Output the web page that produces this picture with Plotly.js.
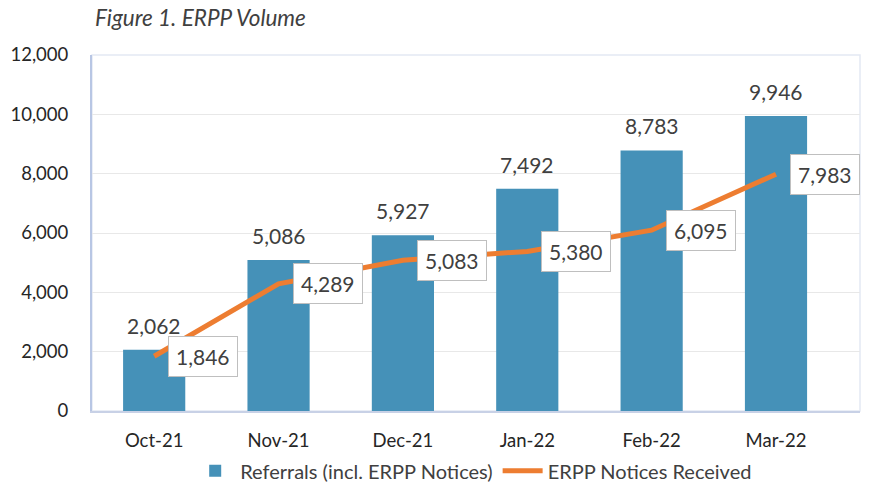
<!DOCTYPE html>
<html>
<head>
<meta charset="utf-8">
<script src="https://cdn.plot.ly/plotly-3.0.1.min.js"></script>
<style>html,body{margin:0;padding:0;background:#fff;}#chart{width:883px;height:482px;}</style>
</head>
<body>
<div id="chart"></div>
<script>
const months = ["Oct-21", "Nov-21", "Dec-21", "Jan-22", "Feb-22", "Mar-22"];
const referrals = [2062, 5086, 5927, 7492, 8783, 9946];
const notices = [1846, 4289, 5083, 5380, 6095, 7983];
const yTicks = [0, 2000, 4000, 6000, 8000, 10000, 12000];

const fontFam = "Lato, 'Open Sans', sans-serif";
const txtCol = "#404040";
const fmt = v => v.toLocaleString("en-US");

const traces = [
  {
    type: "bar", x: months, y: referrals, name: "Referrals (incl. ERPP Notices)",
    marker: {color: "#4591b8"}, hoverinfo: "x+y"
  },
  {
    type: "scatter", mode: "lines", x: months, y: notices, name: "ERPP Notices Received",
    line: {color: "#ed7d31", width: 5}, hoverinfo: "x+y"
  }
];

const annotations = [];
months.forEach((m, i) => {
  annotations.push({
    x: m, y: referrals[i], xref: "x", yref: "y", text: fmt(referrals[i]),
    showarrow: false, yanchor: "bottom", yshift: 10,
    font: {family: fontFam, size: 21, color: txtCol}
  });
  annotations.push({
    x: m, y: notices[i], xref: "x", yref: "y", text: fmt(notices[i]),
    showarrow: false, xshift: 49, yshift: 0,
    bgcolor: "#ffffff", bordercolor: "#bfbfbf", borderwidth: 1, borderpad: 7,
    font: {family: fontFam, size: 21, color: txtCol}
  });
});
annotations.push({
  xref: "paper", yref: "paper", x: 0, y: 1, xanchor: "left", yanchor: "bottom",
  xshift: 1, yshift: 22, showarrow: false,
  text: "<i>Figure 1. ERPP Volume</i>",
  font: {family: fontFam, size: 22.5, color: txtCol}
});

const layout = {
  width: 883, height: 482,
  margin: {l: 92, r: 23, t: 55, b: 71, autoexpand: false},
  paper_bgcolor: "#ffffff", plot_bgcolor: "#ffffff",
  bargap: 0.5,
  showlegend: true,
  legend: {
    orientation: "h", x: 0.497, xanchor: "center", y: -0.168, yanchor: "middle",
    bgcolor: "rgba(0,0,0,0)",
    font: {family: fontFam, size: 20, color: txtCol}, traceorder: "normal",
    itemwidth: 40
  },
  xaxis: {
    type: "category", showgrid: false, showline: true, linecolor: "#c8d1e6", linewidth: 2,
    ticks: "outside", ticklen: 12, tickcolor: "rgba(0,0,0,0)",
    tickfont: {family: fontFam, size: 18.5, color: "#262626"}, zeroline: false
  },
  yaxis: {
    range: [0, 12000], tickvals: yTicks, ticktext: yTicks.map(fmt),
    showgrid: true, gridcolor: "#e8e8e8", gridwidth: 1,
    showline: true, linecolor: "#b8c6e4", linewidth: 2,
    ticks: "outside", ticklen: 18, tickcolor: "rgba(0,0,0,0)",
    tickfont: {family: fontFam, size: 18.5, color: "#262626"}, zeroline: false
  },
  shapes: [
    {type: "rect", xref: "paper", yref: "paper", x0: 0, x1: 1, y0: 0, y1: 1,
     line: {color: "#e4e9f3", width: 1.5}, layer: "below"}
  ],
  annotations: annotations
};

Plotly.newPlot("chart", traces, layout, {displayModeBar: false, staticPlot: true});
</script>
</body>
</html>
